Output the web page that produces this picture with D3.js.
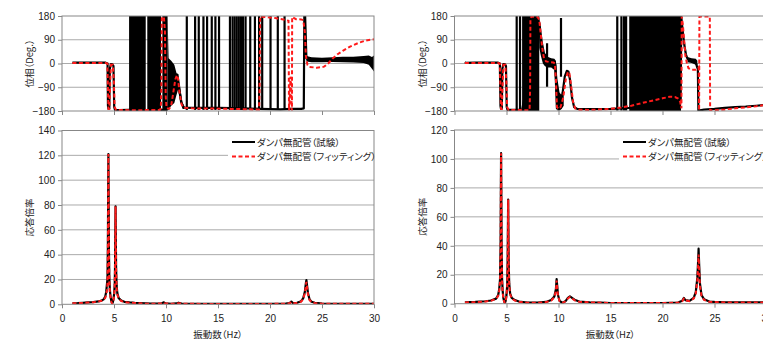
<!DOCTYPE html>
<html><head><meta charset="utf-8">
<script src="https://cdn.jsdelivr.net/npm/d3@7"></script>
<style>
body{margin:0;background:#fff}
svg{display:block}
.tick-lbl{font-family:"Liberation Sans",Arial,sans-serif;font-size:10px;fill:#222}
.jp{font-family:"Noto Sans CJK JP",sans-serif;fill:#222;font-feature-settings:"palt" 1}
</style>
</head><body>
<svg id="c" width="763" height="344"></svg>
<script>
// ---------- data ----------
const freqTicks = [0,5,10,15,20,25,30];
const phaseTicks = [-180,-90,0,90,180];
const ampTicksL = [0,20,40,60,80,100,120,140];
const ampTicksR = [0,20,40,60,80,100,120];
const legendLabels = ["ダンパ無配管（試験）","ダンパ無配管（フィッティング）"];
const phaseTitle = "位相（Deg.）";
const ampTitle = "応答倍率";
const freqTitle = "振動数（Hz）";

// Left: phase, experiment (black)  [Hz, deg]
const phaseExpL = [[1.0,3],[2,3],[3,3],[4.2,3],[4.38,0],[4.42,-160],[4.47,-172],[4.55,-170],[4.6,-20],[4.7,-2],[4.85,-3],[4.95,-10],[5.02,-165],[5.1,-176],[5.5,-177],[6.4,-176],[8.1,-177],[9.6,-176],
 [10.2,-170],[10.3,-150],[10.45,-60],[10.55,-110],[10.7,-40],[10.85,-70],[11.0,-45],[11.1,-42],[11.25,-85],[11.45,-145],[11.7,-167],[12.5,-168],[15,-168],[17.5,-170],[19,-172],[21,-174],[22,-172],[23,-172],[23.25,-170],[23.3,178],[23.38,178],[23.5,20],[23.7,15],[24,14],[25,13],[26,15],[27,16],[28,15],[29,14],[29.7,10],[30,5]];
const phaseBandsL = [[6.45,8.05],[8.2,9.52],[9.65,10.15]];
const phaseSpikesL = [[12.0,-176,180],[12.8,-176,180],[13.15,-176,180],[13.6,-176,180],[13.95,-176,180],[14.4,-176,180],[14.75,-176,180],[15.1,-176,180],[16.15,-176,180],[16.4,-176,180],[16.6,-176,180],[16.8,-176,180],[17.0,-176,180],[17.2,-176,180],[17.4,-176,180],[17.65,-176,180],[18.1,-176,180],[18.55,-176,180],[18.95,-176,180],[19.25,-176,180],[20.05,-176,180],[20.75,-176,180],[21.4,-176,180]];
const phaseNoiseL = [[10.15,-178,180],[10.25,-175,20],[10.5,-160,10],[10.8,-150,-5],[11.0,-120,-35],[11.15,-100,-45],[11.35,-140,-90],[11.6,-172,-150],[11.8,-172,-165]];
const phaseNoiseL2 = [[23.5,8,28],[24,5,24],[25,5,22],[26,6,24],[27,5,26],[28,4,26],[29,2,28],[29.5,-5,30],[29.8,-20,25],[30,-30,30]];
// Left: phase, fitting (red)
const phaseFitL = [[1.0,2],[4.2,2],[4.36,0],[4.42,-100],[4.47,-172],[4.55,-172],[4.62,-90],[4.7,-5],[4.88,-5],[4.98,-60],[5.06,-165],[5.2,-176],[7,-177],[9.4,-176],[9.5,-170],[9.55,-100],[9.6,170],[9.68,178],[9.8,175],[9.9,120],[9.97,-120],[10.05,-168],[10.3,-172],[10.5,-160],[10.7,-110],[10.9,-60],[11.05,-44],[11.15,-55],[11.3,-110],[11.5,-155],[11.7,-168],[12.5,-170],[15,-171],[18.5,-174],[18.95,-174],[19.0,-100],[19.05,178],[19.5,176],[20.5,172],[21.5,165],[21.78,162],[21.83,-178],[21.9,-130],[21.97,-50],[22.03,-80],[22.08,-170],[22.11,-178],[22.13,176],[22.5,168],[23.0,167],[23.2,164],[23.35,120],[23.45,30],[23.6,-5],[23.8,-13],[24.5,-16],[25.2,-12],[25.6,0],[26,18],[26.5,35],[27,48],[27.7,64],[28.5,78],[29.2,87],[30,92]];

// Left: amplitude
const ampExpL = [[1.0,0.8],[1.5,0.9],[2,1.2],[2.5,1.5],[3,1.8],[3.5,2.3],[3.8,3],[4.0,4],[4.15,6],[4.25,10],[4.32,16],[4.37,20],[4.41,45],[4.44,90],[4.46,121],[4.48,95],[4.51,45],[4.55,22],[4.6,12],[4.67,6],[4.75,2.5],[4.82,0.6],[4.88,1.5],[4.95,4],[5.02,9],[5.07,16],[5.1,30],[5.13,60],[5.15,79],[5.17,60],[5.2,30],[5.25,15],[5.32,9],[5.45,5],[5.7,3],[6.0,2],[6.5,1.5],[7.0,1.2],[7.5,1],[8,0.8],[8.5,0.5],[9,0.5],[9.6,0.8],[9.8,1.6],[9.95,0.8],[10.5,0.4],[11.0,0.7],[11.2,1.3],[11.5,0.6],[12,0.4],[14,0.3],[17,0.3],[20,0.3],[21.5,0.5],[21.9,1],[22.05,2.2],[22.2,1],[22.6,1.2],[23.0,2.5],[23.2,5],[23.35,10],[23.45,17],[23.5,19.5],[23.55,16],[23.65,9],[23.8,4],[24.0,2],[24.3,1.2],[24.6,0.9],[25,0.5],[27,0.4],[30,0.4]];
const ampFitL = [[1.0,0.8],[1.5,0.9],[2,1.1],[2.5,1.4],[3,1.7],[3.5,2.2],[3.8,2.8],[4.0,3.6],[4.15,5],[4.25,7.5],[4.32,11],[4.37,16],[4.41,40],[4.44,88],[4.46,121],[4.48,92],[4.51,42],[4.55,20],[4.6,10],[4.67,5],[4.75,2],[4.82,0.5],[4.88,1.3],[4.95,3.5],[5.02,8],[5.07,14],[5.1,28],[5.13,58],[5.15,79],[5.17,58],[5.2,28],[5.25,13],[5.32,8],[5.45,4.5],[5.7,2.6],[6.0,1.8],[6.5,1.3],[7.0,1],[7.5,0.8],[8,0.6],[8.5,0.5],[9,0.5],[9.6,0.7],[9.8,1.3],[9.95,0.7],[10.5,0.4],[11.0,0.6],[11.2,0.9],[11.5,0.5],[12,0.4],[14,0.3],[17,0.3],[20,0.3],[21.5,0.5],[21.9,0.9],[22.05,1.8],[22.2,0.9],[22.6,1],[23.0,2.2],[23.2,4.5],[23.35,9],[23.45,15],[23.5,18],[23.55,15],[23.65,8],[23.8,3.5],[24.0,1.8],[24.3,1],[24.6,0.7],[25,0.5],[27,0.4],[30,0.4]];

// Right: phase, experiment (black)
const phaseExpR = [[1.0,5],[1.1,2],[2,3],[4.2,3],[4.36,0],[4.42,-160],[4.47,-172],[4.55,-170],[4.6,-20],[4.7,-2],[4.85,-3],[4.95,-10],[5.02,-165],[5.1,-176],[6.5,-176],[8.15,150],[8.2,120],[8.3,80],[8.45,40],[8.6,15],[8.8,8],[9.2,5],[9.5,5],[9.7,-5],[9.78,-100],[9.85,-170],[10.0,-168],[10.2,-150],[10.4,-110],[10.6,-50],[10.8,-28],[10.95,-30],[11.1,-60],[11.3,-130],[11.5,-165],[11.8,-172],[13,-173],[15,-172],[15.6,-171],[16.8,-168],[21.75,-140],[21.8,180],[21.95,120],[22.1,70],[22.25,35],[22.4,18],[22.6,12],[23.0,10],[23.2,5],[23.3,-10],[23.4,-20],[23.45,-178],[24,-175],[25,-172],[26,-168],[27,-165],[28,-163],[29,-160],[30,-157]];
const phaseBandsR = [[6.5,8.15],[16.8,21.78]];
const phaseSpikesR = [[5.98,-178,180],[6.3,-178,180],[8.9,-88,77],[10.24,-50,172],[15.65,-178,180],[16.05,-178,180],[16.3,-178,180],[16.5,-178,180]];
const phaseNoiseR = [[8.15,60,180],[8.3,30,140],[8.5,0,80],[8.7,-10,40],[9.0,-15,25],[9.3,-15,20],[9.6,-25,18],[9.75,-120,10],[9.9,-178,-60],[10.1,-178,-110],[10.3,-172,-120],[10.5,-160,-90]];
const phaseNoiseR2 = [[22.4,5,25],[22.8,2,20],[23.2,-5,18],[23.35,-25,10]];
// Right: phase, fitting (red)
const phaseFitR = [[1.0,2],[4.2,2],[4.36,0],[4.42,-100],[4.47,-172],[4.55,-172],[4.62,-90],[4.7,-5],[4.88,-5],[4.98,-60],[5.06,-165],[5.2,-176],[7.1,-177],[7.22,-176],[7.27,-100],[7.3,170],[7.4,178],[8.0,176],[8.15,165],[8.3,110],[8.45,55],[8.6,20],[8.8,8],[9.2,5],[9.5,4],[9.65,0],[9.75,-60],[9.85,-165],[10.0,-172],[10.2,-165],[10.45,-130],[10.7,-60],[10.9,-32],[11.05,-38],[11.2,-80],[11.4,-145],[11.6,-170],[12,-175],[13,-176],[15,-172],[16,-167],[17,-160],[18,-150],[19,-141],[20,-132],[20.7,-126],[21.2,-127],[21.5,-133],[21.7,-145],[21.82,-170],[21.85,178],[21.95,150],[22.1,80],[22.2,30],[22.35,0],[22.5,-18],[22.8,-24],[23.2,-24],[23.4,-20],[23.48,-15],[23.52,-178],[23.55,178],[24.55,178],[24.58,-178],[25,-177],[26,-174],[27,-170],[28,-166],[29,-162],[30,-156]];

// Right: amplitude
const ampExpR = [[1.0,1],[2,1.2],[3,1.7],[3.5,2.2],[4.0,3.5],[4.2,6],[4.3,10],[4.38,17],[4.43,40],[4.46,80],[4.48,104],[4.5,80],[4.53,40],[4.57,18],[4.63,9],[4.7,4],[4.78,1.5],[4.85,0.5],[4.92,2],[5.0,6],[5.07,13],[5.11,30],[5.14,55],[5.16,72],[5.18,55],[5.21,28],[5.26,14],[5.35,7],[5.5,4],[5.8,2.5],[6.2,1.5],[7,0.8],[8,0.7],[8.8,1.2],[9.3,2.5],[9.6,5],[9.75,10],[9.82,17],[9.88,12],[9.95,6],[10.1,2],[10.4,0.5],[10.7,2],[10.9,4],[11.1,5],[11.3,4],[11.6,2.5],[12,1.5],[13,1],[14,0.8],[15,0.5],[17,0.4],[20,0.4],[21.5,0.8],[21.9,2],[22.05,4],[22.2,2.5],[22.6,2],[23.0,4],[23.2,8],[23.35,18],[23.43,30],[23.47,38],[23.52,28],[23.6,14],[23.75,6],[24.0,3],[24.5,1.5],[25,1.2],[26,1],[28,1],[30,1]];
const ampFitR = [[1.0,0.9],[2,1.1],[3,1.6],[3.5,2.1],[4.0,3.3],[4.2,5.5],[4.3,9],[4.38,15],[4.43,38],[4.46,78],[4.48,104],[4.5,78],[4.53,38],[4.57,16],[4.63,8],[4.7,3.5],[4.78,1.3],[4.85,0.4],[4.92,1.8],[5.0,5.5],[5.07,12],[5.11,28],[5.14,53],[5.16,72],[5.18,53],[5.21,26],[5.26,13],[5.35,6.5],[5.5,3.6],[5.8,2.2],[6.2,1.3],[7,0.7],[8,0.6],[8.8,1.1],[9.3,2.2],[9.6,4.5],[9.75,9],[9.82,16],[9.88,11],[9.95,5.5],[10.1,1.8],[10.4,0.5],[10.7,1.8],[10.9,3.6],[11.1,4.6],[11.3,3.6],[11.6,2.2],[12,1.3],[13,0.9],[14,0.7],[15,0.5],[17,0.4],[20,0.4],[21.5,0.7],[21.9,1.8],[22.05,3.5],[22.2,2.2],[22.6,1.8],[23.0,3.5],[23.2,7],[23.35,16],[23.43,27],[23.47,34],[23.52,25],[23.6,12],[23.75,5.5],[24.0,2.6],[24.5,1.3],[25,1.1],[26,0.9],[28,0.9],[30,0.9]];

// ---------- drawing ----------
const svg = d3.select("#c");
const panels = [
  {x0:62, x1:374, pt:16, pb:111, at:130.5, ab:304.3, ampMax:140, ampTicks:ampTicksL,
   pExp:phaseExpL, pFit:phaseFitL, bands:phaseBandsL, spikes:phaseSpikesL, noise:[phaseNoiseL,phaseNoiseL2],
   aExp:ampExpL, aFit:ampFitL, legX:228, yLabX:30, id:"L"},
  {x0:454.5, x1:766.5, pt:16, pb:111, at:130, ab:303.7, ampMax:120, ampTicks:ampTicksR,
   pExp:phaseExpR, pFit:phaseFitR, bands:phaseBandsR, spikes:phaseSpikesR, noise:[phaseNoiseR,phaseNoiseR2],
   aExp:ampExpR, aFit:ampFitR, legX:619, yLabX:423, id:"R"}
];
const defs = svg.append("defs");
const gridCol = "#aaaaaa", frameCol = "#878787";

panels.forEach(p => {
  const x = d3.scaleLinear().domain([0,30]).range([p.x0,p.x1]);
  const yP = d3.scaleLinear().domain([-180,180]).range([p.pb,p.pt]);
  const yA = d3.scaleLinear().domain([0,p.ampMax]).range([p.ab,p.at]);

  defs.append("clipPath").attr("id","cp"+p.id).append("rect")
    .attr("x",p.x0).attr("y",p.pt).attr("width",p.x1-p.x0).attr("height",p.pb-p.pt);
  defs.append("clipPath").attr("id","ca"+p.id).append("rect")
    .attr("x",p.x0).attr("y",p.at-2).attr("width",p.x1-p.x0).attr("height",p.ab-p.at+2);

  // ----- phase plot -----
  const gP = svg.append("g");
  gP.selectAll("line.grid").data(phaseTicks.filter(t=>t>-180&&t<180)).join("line")
    .attr("x1",p.x0).attr("x2",p.x1).attr("y1",d=>yP(d)).attr("y2",d=>yP(d))
    .attr("stroke",gridCol).attr("stroke-width",1);
  const axL = gP.append("g").attr("transform",`translate(${p.x0},0)`)
    .call(d3.axisLeft(yP).tickValues(phaseTicks).tickSize(4).tickPadding(3));
  const axB = gP.append("g").attr("transform",`translate(0,${p.pb})`)
    .call(d3.axisBottom(x).tickValues(freqTicks).tickSize(4).tickFormat(""));
  [axL,axB].forEach(a=>{a.select(".domain").remove();a.selectAll("line").attr("stroke",frameCol);a.selectAll("text").attr("class","tick-lbl").attr("font-size",null).attr("font-family",null).attr("fill",null);});

  const pc = gP.append("g").attr("clip-path",`url(#cp${p.id})`);
  // black dense bands
  pc.selectAll("rect.band").data(p.bands).join("rect")
    .attr("x",d=>x(d[0])).attr("width",d=>x(d[1])-x(d[0]))
    .attr("y",yP(180)).attr("height",yP(-180)-yP(180)).attr("fill","#000");
  // black noise envelopes
  p.noise.forEach(nz=>{
    pc.append("path").datum(nz)
      .attr("d",d3.area().x(d=>x(d[0])).y0(d=>yP(d[1])).y1(d=>yP(d[2])))
      .attr("fill","#000");
  });
  // black spikes
  pc.selectAll("line.spike").data(p.spikes).join("line")
    .attr("x1",d=>x(d[0])).attr("x2",d=>x(d[0]))
    .attr("y1",d=>yP(d[1])).attr("y2",d=>yP(d[2]))
    .attr("stroke","#000").attr("stroke-width",2.2);
  const lineP = d3.line().x(d=>x(d[0])).y(d=>yP(d[1]));
  pc.append("path").datum(p.pExp).attr("d",lineP)
    .attr("fill","none").attr("stroke","#000").attr("stroke-width",2.2).attr("stroke-linejoin","round");
  pc.append("path").datum(p.pFit).attr("d",lineP)
    .attr("fill","none").attr("stroke","#ff1a1a").attr("stroke-width",2).attr("stroke-dasharray","4,2.5");
  gP.append("rect").attr("x",p.x0).attr("y",p.pt).attr("width",p.x1-p.x0).attr("height",p.pb-p.pt)
    .attr("fill","none").attr("stroke",frameCol).attr("stroke-width",1);

  // ----- amplitude plot -----
  const gA = svg.append("g");
  gA.selectAll("line.grid").data(p.ampTicks.filter(t=>t>0&&t<p.ampMax)).join("line")
    .attr("x1",p.x0).attr("x2",p.x1).attr("y1",d=>yA(d)).attr("y2",d=>yA(d))
    .attr("stroke",gridCol).attr("stroke-width",1);
  // legend background
  gA.append("rect").attr("x",p.legX).attr("y",133).attr("width",160).attr("height",31).attr("fill","#fff");
  const aL = gA.append("g").attr("transform",`translate(${p.x0},0)`)
    .call(d3.axisLeft(yA).tickValues(p.ampTicks).tickSize(4).tickPadding(3));
  const aB = gA.append("g").attr("transform",`translate(0,${p.ab})`)
    .call(d3.axisBottom(x).tickValues(freqTicks).tickSize(4).tickPadding(5));
  [aL,aB].forEach(a=>{a.select(".domain").remove();a.selectAll("line").attr("stroke",frameCol);a.selectAll("text").attr("class","tick-lbl").attr("font-size",null).attr("font-family",null).attr("fill",null);});
  aB.selectAll("text").attr("dy","0.9em");

  const ac = gA.append("g").attr("clip-path",`url(#ca${p.id})`);
  const lineA = d3.line().x(d=>x(d[0])).y(d=>yA(d[1]));
  ac.append("path").datum(p.aExp).attr("d",lineA)
    .attr("fill","none").attr("stroke","#000").attr("stroke-width",2.2).attr("stroke-linejoin","round");
  ac.append("path").datum(p.aFit).attr("d",lineA)
    .attr("fill","none").attr("stroke","#ff1a1a").attr("stroke-width",2).attr("stroke-dasharray","4,2.5");
  gA.append("rect").attr("x",p.x0).attr("y",p.at).attr("width",p.x1-p.x0).attr("height",p.ab-p.at)
    .attr("fill","none").attr("stroke",frameCol).attr("stroke-width",1);

  // legend
  const lx = p.legX+4, ly = [142,156.5];
  gA.append("line").attr("x1",lx).attr("x2",lx+23).attr("y1",ly[0]).attr("y2",ly[0]).attr("stroke","#000").attr("stroke-width",2);
  gA.append("line").attr("x1",lx).attr("x2",lx+23).attr("y1",ly[1]).attr("y2",ly[1]).attr("stroke","#ff1a1a").attr("stroke-width",2).attr("stroke-dasharray","4,2.5");
  legendLabels.forEach((t,i)=>{
    gA.append("text").attr("class","jp").attr("x",lx+25).attr("y",ly[i]+3.5).attr("font-size","9.5px").text(t);
  });

  // axis titles
  svg.append("text").attr("class","jp").attr("font-size","9.5px").attr("text-anchor","middle")
    .attr("transform",`translate(${p.yLabX+3},${(p.pt+p.pb)/2}) rotate(-90)`).text(phaseTitle);
  svg.append("text").attr("class","jp").attr("font-size","9.5px").attr("text-anchor","middle")
    .attr("transform",`translate(${p.yLabX+3},${(p.at+p.ab)/2}) rotate(-90)`).text(ampTitle);
  svg.append("text").attr("class","jp").attr("font-size","9.5px").attr("text-anchor","middle")
    .attr("x",(p.x0+p.x1)/2).attr("y",338).text(freqTitle);
});
</script>
</body></html>
